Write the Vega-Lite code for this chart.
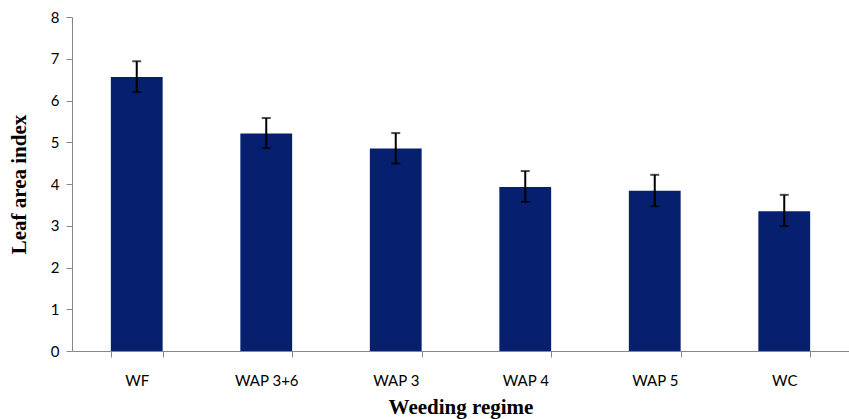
{
  "$schema": "https://vega.github.io/schema/vega-lite/v6.json",
  "width": 777,
  "height": 334,
  "autosize": {"type": "none"},
  "padding": {"left": 72, "top": 17, "right": 0, "bottom": 68},
  "background": "white",
  "data": {
    "values": [
      {"regime": "WF", "lai": 6.56, "lo": 6.20, "hi": 6.94},
      {"regime": "WAP 3+6", "lai": 5.21, "lo": 4.86, "hi": 5.58},
      {"regime": "WAP 3", "lai": 4.85, "lo": 4.49, "hi": 5.22},
      {"regime": "WAP 4", "lai": 3.93, "lo": 3.57, "hi": 4.31},
      {"regime": "WAP 5", "lai": 3.84, "lo": 3.47, "hi": 4.22},
      {"regime": "WC", "lai": 3.35, "lo": 2.99, "hi": 3.74}
    ]
  },
  "encoding": {
    "x": {
      "field": "regime",
      "type": "nominal",
      "sort": null,
      "scale": {"paddingInner": 0.6, "paddingOuter": 0.3},
      "axis": {
        "title": "Weeding regime",
        "labelAngle": 0,
        "tickBand": "extent",
        "tickSize": 6,
        "tickColor": "#888888",
        "domainColor": "#888888",
        "labelFont": "Lato",
        "labelFontSize": 15,
        "labelColor": "#000000",
        "labelPadding": 16,
        "titleFont": "Liberation Serif",
        "titleFontSize": 21,
        "titleFontWeight": "bold",
        "titleColor": "#000000",
        "titlePadding": 8
      }
    }
  },
  "layer": [
    {
      "mark": {"type": "bar", "color": "#061f6e"},
      "encoding": {
        "y": {
          "field": "lai",
          "type": "quantitative",
          "scale": {"domain": [0, 8]},
          "axis": {
            "title": "Leaf area index",
            "values": [0, 1, 2, 3, 4, 5, 6, 7, 8],
            "grid": false,
            "tickSize": 6,
            "tickColor": "#888888",
            "domainColor": "#888888",
            "labelFont": "Lato",
            "labelFontSize": 15,
            "labelColor": "#000000",
            "labelPadding": 7,
            "titleFont": "Liberation Serif",
            "titleFontSize": 21,
            "titleFontWeight": "bold",
            "titleColor": "#000000",
            "titlePadding": 21
          }
        }
      }
    },
    {
      "mark": {
        "type": "errorbar",
        "color": "black",
        "thickness": 2,
        "ticks": {"size": 9, "thickness": 2, "color": "black"}
      },
      "encoding": {
        "y": {"field": "lo", "type": "quantitative", "title": "Leaf area index"},
        "y2": {"field": "hi"}
      }
    }
  ],
  "config": {"view": {"stroke": null}}
}
